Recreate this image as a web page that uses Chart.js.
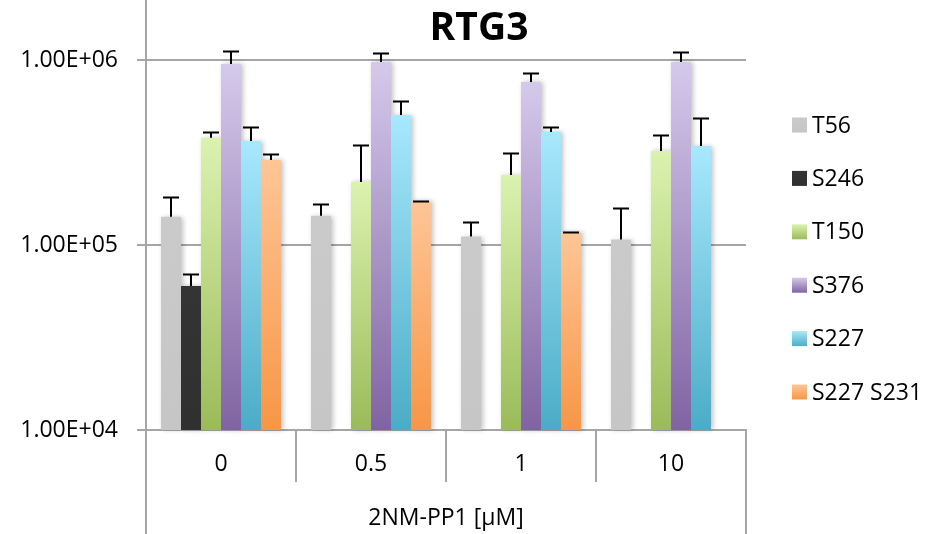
<!DOCTYPE html>
<html>
<head>
<meta charset="utf-8">
<script src="https://cdn.jsdelivr.net/npm/chart.js@4"></script>
<style>
  body { margin: 0; background: #fff; }
  #wrap { width: 944px; height: 534px; }
</style>
</head>
<body>
<div id="wrap"><canvas id="grafico" width="944" height="534"></canvas></div>
<script>
const categorias = ['0', '0.5', '1', '10']
const nomesSeries = ['T56', 'S246', 'T150', 'S376', 'S227', 'S227 S231']

// valores médios
const t56 = [1.42e5, 1.44e5, 1.11e5, 1.07e5]
const s246 = [6.0e4, null, null, null]
const t150 = [3.80e5, 2.19e5, 2.39e5, 3.22e5]
const s376 = [9.5e5, 9.75e5, 7.6e5, 9.75e5]
const s227 = [3.65e5, 5.05e5, 4.08e5, 3.43e5]
const s227s231 = [2.88e5, 1.72e5, 1.17e5, null]

// barras de erro (só o lado de cima)
const t56Err = [4.0e4, 2.3e4, 2.2e4, 5.1e4]
const s246Err = [1.0e4, null, null, null]
const t150Err = [2.6e4, 1.29e5, 7.7e4, 7.0e4]
const s376Err = [1.7e5, 1.15e5, 9.0e4, 1.25e5]
const s227Err = [6.8e4, 9.8e4, 2.5e4, 1.41e5]
const s227s231Err = [2.4e4, 1.0e3, 1.0e3, null]

const yTickValues = [1e4, 1e5, 1e6]
const yTickLabels = ['1.00E+04', '1.00E+05', '1.00E+06']

const valores = [t56, s246, t150, s376, s227, s227s231]
const erros = [t56Err, s246Err, t150Err, s376Err, s227Err, s227s231Err]

// cores: topo e base do degradê
const cores = [
    ['#cacaca', '#c6c6c6'],
    ['#343434', '#303030'],
    ['#dbf2b0', '#9bbb59'],
    ['#d5c9eb', '#8064a2'],
    ['#a8e8fd', '#4bacc6'],
    ['#fec596', '#f79646']
]

const FONTE = '"Open Sans", sans-serif'
Chart.defaults.font.family = FONTE
Chart.defaults.color = '#000'

function degrade(topo, base) {
    return function (c) {
        const chart = c.chart
        const area = chart.chartArea
        if (!area || c.raw == null || !chart.scales.y) return base
        const yTopo = chart.scales.y.getPixelForValue(c.raw)
        const g = chart.ctx.createLinearGradient(0, yTopo, 0, area.bottom)
        g.addColorStop(0, topo)
        g.addColorStop(1, base)
        return g
    }
}

function semPadding(axis) {
    axis.paddingTop = 0
    axis.paddingBottom = 0
    axis.paddingLeft = 0
    axis.paddingRight = 0
}

// sombra leve atrás das barras
const sombraPlugin = {
    id: 'sombra',
    beforeDatasetsDraw(chart) {
        const ctx = chart.ctx
        ctx.save()
        ctx.shadowColor = 'rgba(0,0,0,0.25)'
        ctx.shadowBlur = 5
        ctx.shadowOffsetX = 2
        ctx.fillStyle = '#fff'
        chart.data.datasets.forEach((ds, i) => {
            chart.getDatasetMeta(i).data.forEach((bar, j) => {
                if (ds.data[j] == null) return
                ctx.fillRect(bar.x - bar.width / 2, bar.y, bar.width, bar.base - bar.y)
            })
        })
        ctx.restore()
    }
}

// barras de erro
const erroPlugin = {
    id: 'erros',
    afterDatasetsDraw(chart) {
        const ctx = chart.ctx
        const y = chart.scales.y
        ctx.save()
        ctx.strokeStyle = '#000'
        ctx.lineWidth = 2
        chart.data.datasets.forEach((ds, i) => {
            chart.getDatasetMeta(i).data.forEach((bar, j) => {
                const v = ds.data[j]
                const e = erros[i][j]
                if (v == null || e == null) return
                const yErr = Math.round(y.getPixelForValue(v + e)) + 0.5
                ctx.beginPath()
                ctx.moveTo(bar.x, bar.y)
                ctx.lineTo(bar.x, yErr)
                ctx.moveTo(bar.x - 8, yErr)
                ctx.lineTo(bar.x + 8, yErr)
                ctx.stroke()
            })
        })
        ctx.restore()
    }
}

// título, legenda e linhas externas do eixo x
const extrasPlugin = {
    id: 'extras',
    afterDraw(chart) {
        const ctx = chart.ctx
        const area = chart.chartArea
        ctx.save()
        ctx.strokeStyle = '#a6a6a6'
        ctx.lineWidth = 2
        ctx.beginPath()
        ctx.moveTo(area.left, area.bottom)
        ctx.lineTo(area.left, 534)
        ctx.moveTo(area.right, area.bottom)
        ctx.lineTo(area.right, 534)
        ctx.stroke()

        ctx.fillStyle = '#000'
        ctx.font = 'bold 39px ' + FONTE
        ctx.textAlign = 'center'
        ctx.textBaseline = 'middle'
        ctx.fillText('RTG3', 479, 29)

        ctx.font = '23px ' + FONTE
        ctx.textAlign = 'left'
        chart.data.datasets.forEach((ds, i) => {
            const cy = 125 + i * 53.4
            const g = ctx.createLinearGradient(0, cy - 7.5, 0, cy + 7.5)
            g.addColorStop(0, cores[i][0])
            g.addColorStop(1, cores[i][1])
            ctx.fillStyle = g
            ctx.fillRect(792, cy - 7.5, 15, 15)
            ctx.fillStyle = '#000'
            ctx.fillText(ds.label, 812, cy + 1)
        })
        ctx.restore()
    }
}

const grafico = new Chart(document.getElementById('grafico').getContext('2d'), {
    type: 'bar',
    data: {
        labels: categorias,
        datasets: nomesSeries.map((nome, i) => ({
            label: nome,
            data: valores[i],
            backgroundColor: degrade(cores[i][0], cores[i][1]),
            borderWidth: 0,
            categoryPercentage: 0.8,
            barPercentage: 1.0
        }))
    },
    options: {
        responsive: false,
        animation: false,
        layout: { padding: { top: 0, right: 198, bottom: 0, left: 0 } },
        plugins: {
            legend: { display: false },
            title: { display: false },
            tooltip: { enabled: false }
        },
        scales: {
            x: {
                offset: true,
                grid: {
                    offset: true,
                    drawOnChartArea: false,
                    tickLength: 52,
                    color: '#a6a6a6',
                    lineWidth: 2
                },
                border: { color: '#a6a6a6', width: 2 },
                ticks: { font: { size: 23 }, padding: -31, color: '#000' },
                title: {
                    display: true,
                    text: '2NM-PP1 [μM]',
                    font: { size: 23 },
                    color: '#000',
                    padding: { top: 0, bottom: 2 }
                },
                afterFit(axis) {
                    axis.height = 104
                    semPadding(axis)
                }
            },
            y: {
                type: 'logarithmic',
                min: 1e4,
                max: 2.11e6,
                grid: { color: '#a6a6a6', lineWidth: 2, tickLength: 9 },
                border: { color: '#a6a6a6', width: 2 },
                ticks: {
                    font: { size: 23 },
                    padding: 19,
                    color: '#000',
                    callback: (v) => {
                        const k = yTickValues.indexOf(v)
                        return k >= 0 ? yTickLabels[k] : ''
                    }
                },
                afterBuildTicks(axis) {
                    axis.ticks = yTickValues.map(v => ({ value: v }))
                },
                afterFit(axis) {
                    axis.width = 146
                    semPadding(axis)
                }
            }
        }
    },
    plugins: [sombraPlugin, erroPlugin, extrasPlugin]
})
</script>
</body>
</html>
